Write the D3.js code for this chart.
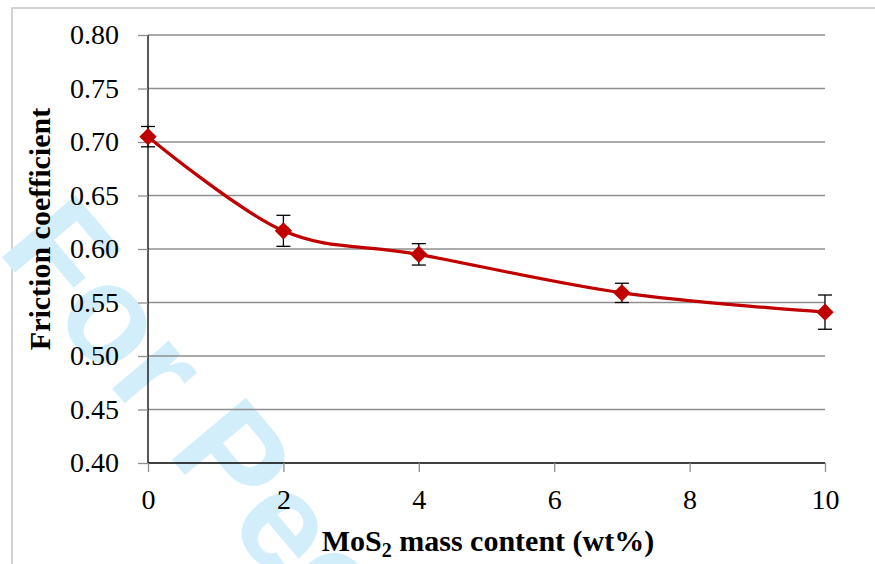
<!DOCTYPE html>
<html>
<head>
<meta charset="utf-8">
<script src="https://cdn.jsdelivr.net/npm/d3@7"></script>
<style>
  body { margin: 0; background: #fff; }
  svg { display: block; }
  .tick text { font-family: "Liberation Serif", "Times New Roman", serif; font-size: 28px; fill: #000; }
</style>
</head>
<body>
<svg id="chart" width="875" height="564"></svg>
<script>
// data
const mos2 = [0, 2, 4, 7, 10];
const friction = [0.705, 0.617, 0.595, 0.559, 0.541];
const errors = [0.0095, 0.0145, 0.010, 0.009, 0.016];
const xTicks = [0, 2, 4, 6, 8, 10];
const yTicks = [0.40, 0.45, 0.50, 0.55, 0.60, 0.65, 0.70, 0.75, 0.80];

const svg = d3.select("#chart");
const W = 875, H = 564;
const m = { left: 148, right: 50, top: 35, bottom: 101 };
const serif = "'Liberation Serif', 'Times New Roman', serif";

const x = d3.scaleLinear().domain([0, 10]).range([m.left, W - m.right]);
const y = d3.scaleLinear().domain([0.40, 0.80]).range([H - m.bottom, m.top]);

const pts = mos2.map((v, i) => ({ x: v, y: friction[i], e: errors[i] }));

// outer frame
svg.append("rect")
  .attr("x", 12).attr("y", 8)
  .attr("width", W + 20).attr("height", H + 20)
  .attr("fill", "none")
  .attr("stroke", "#c4c4c4")
  .attr("stroke-width", 1.5);

// watermark
svg.append("text")
  .attr("transform", "translate(-4,250) rotate(50)")
  .style("font-family", "'Liberation Sans', Arial, sans-serif")
  .attr("font-weight", "bold")
  .attr("font-size", 140)
  .attr("fill", "#d3eefb")
  .text("For Peer Review");

// gridlines
svg.append("g")
  .selectAll("line")
  .data(yTicks.slice(1))
  .join("line")
  .attr("x1", x(0)).attr("x2", x(10))
  .attr("y1", d => y(d)).attr("y2", d => y(d))
  .attr("stroke", "#8e8e8e")
  .attr("stroke-width", 1.7);

// y axis
const yAxis = svg.append("g")
  .attr("transform", `translate(${x(0)},0)`)
  .call(d3.axisLeft(y).tickValues(yTicks).tickFormat(d3.format(".2f")).tickSize(10).tickPadding(19));
yAxis.attr("font-family", null).attr("font-size", null);
yAxis.select(".domain").attr("stroke", "#000").attr("stroke-width", 1.3)
  .attr("d", `M0,${y(0.40)}V${y(0.80)}`);
yAxis.selectAll(".tick line").attr("stroke", "#8e8e8e").attr("stroke-width", 1.3);

// x axis
const xAxis = svg.append("g")
  .attr("transform", `translate(0,${y(0.40)})`)
  .call(d3.axisBottom(x).tickValues(xTicks).tickFormat(d3.format("d")).tickSize(9).tickPadding(17));
xAxis.attr("font-family", null).attr("font-size", null);
xAxis.select(".domain").attr("stroke", "#000").attr("stroke-width", 1.3)
  .attr("d", `M${x(0)},0H${x(10)}`);
xAxis.selectAll(".tick line").attr("stroke", "#8e8e8e").attr("stroke-width", 1.3);

// error bars
const eb = svg.append("g").attr("stroke", "#000").attr("stroke-width", 1.3);
pts.forEach(p => {
  const cx = x(p.x);
  eb.append("line").attr("x1", cx).attr("x2", cx).attr("y1", y(p.y - p.e)).attr("y2", y(p.y + p.e));
  eb.append("line").attr("x1", cx - 7).attr("x2", cx + 7).attr("y1", y(p.y - p.e)).attr("y2", y(p.y - p.e));
  eb.append("line").attr("x1", cx - 7).attr("x2", cx + 7).attr("y1", y(p.y + p.e)).attr("y2", y(p.y + p.e));
});

// smoothed line
const line = d3.line().x(d => x(d.x)).y(d => y(d.y)).curve(d3.curveCatmullRom.alpha(0));
svg.append("path")
  .datum(pts)
  .attr("d", line)
  .attr("fill", "none")
  .attr("stroke", "#c00000")
  .attr("stroke-width", 3.2);

// diamond markers
svg.append("g")
  .selectAll("path")
  .data(pts)
  .join("path")
  .attr("d", d3.symbol(d3.symbolSquare, 150))
  .attr("transform", d => `translate(${x(d.x)},${y(d.y)}) rotate(45)`)
  .attr("fill", "#c00000");

// axis titles
const xt = svg.append("text")
  .attr("x", 488).attr("y", 551)
  .attr("text-anchor", "middle")
  .style("font-family", serif)
  .attr("font-weight", "bold")
  .attr("font-size", 30)
  .attr("fill", "#000");
xt.append("tspan").text("MoS");
xt.append("tspan").attr("font-size", 20).attr("dy", 6).text("2");
xt.append("tspan").attr("dy", -6).text(" mass content (wt%)");

svg.append("text")
  .attr("transform", "translate(50,229) rotate(-90)")
  .attr("text-anchor", "middle")
  .style("font-family", serif)
  .attr("font-weight", "bold")
  .attr("font-size", 30)
  .attr("fill", "#000")
  .text("Friction coefficient");
</script>
</body>
</html>
